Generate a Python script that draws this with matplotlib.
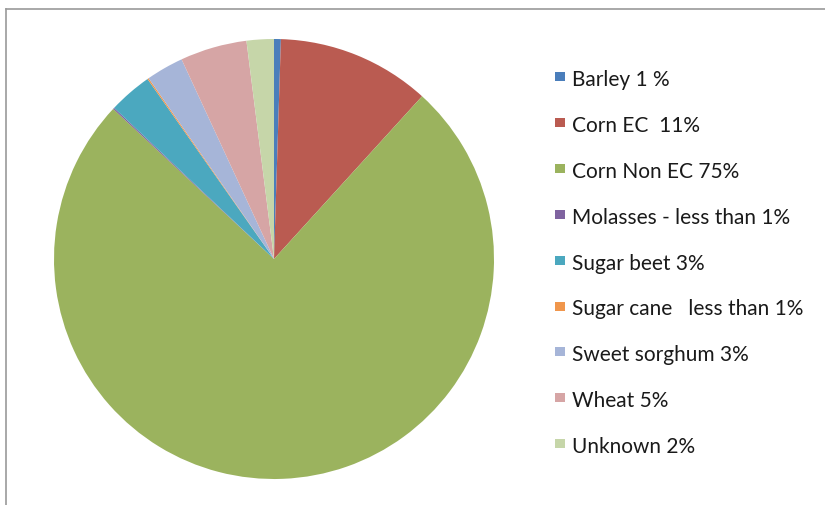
import matplotlib
matplotlib.use("Agg")
import matplotlib.pyplot as plt
from matplotlib.patches import Rectangle
from matplotlib.lines import Line2D

# Feedstock shares (percent of total)
sources = ["Barley", "Corn EC", "Corn Non EC", "Molasses", "Sugar beet",
           "Sugar cane", "Sweet sorghum", "Wheat", "Unknown"]
shares = [0.5, 11.25, 75.2, 0.1, 3.2, 0.1, 2.75, 4.9, 2.0]
legend_labels = ["Barley 1 %", "Corn EC  11%", "Corn Non EC 75%",
                 "Molasses - less than 1%", "Sugar beet 3%",
                 "Sugar cane   less than 1%", "Sweet sorghum 3%",
                 "Wheat 5%", "Unknown 2%"]
colors = ["#4A7EBB", "#BA5B51", "#9BB35E", "#7F63A0", "#4BA8BF",
          "#F0964C", "#A6B5D8", "#D6A5A5", "#C6D6A9"]

W, H = 825, 506
fig = plt.figure(figsize=(W / 100, H / 100), dpi=100)
fig.patch.set_facecolor("white")

# Chart frame (top and left edges)
fig.add_artist(Line2D([5.5 / W, 1.0], [1 - 9.5 / H, 1 - 9.5 / H],
                      transform=fig.transFigure, color="#9a9a9a", lw=1.2))
fig.add_artist(Line2D([5.5 / W, 5.5 / W], [0.0, 1 - 9.5 / H],
                      transform=fig.transFigure, color="#9a9a9a", lw=1.2))

# Pie: centre (274, 260), radius 220 px
cx, cy, r = 274, 260, 220
ax = fig.add_axes([(cx - r) / W, (H - cy - r) / H, 2 * r / W, 2 * r / H])
ax.pie(shares, colors=colors, startangle=90, counterclock=False,
       radius=1.0, wedgeprops=dict(linewidth=0))
ax.set_xlim(-1, 1)
ax.set_ylim(-1, 1)
ax.set_aspect("equal")
ax.axis("off")

# Legend
row0, step = 77.5, 45.9
for i, (lab, col) in enumerate(zip(legend_labels, colors)):
    yc = row0 + i * step
    fig.add_artist(Rectangle((555 / W, 1 - (yc + 4.5) / H), 10 / W, 9 / H,
                             transform=fig.transFigure, facecolor=col,
                             edgecolor="none"))
    fig.text(572 / W, 1 - (yc + 8.5) / H, lab, fontsize=15,
             family="Lato", color="#1a1a1a", va="baseline", ha="left")

fig.savefig("out.png", dpi=100, facecolor="white")
